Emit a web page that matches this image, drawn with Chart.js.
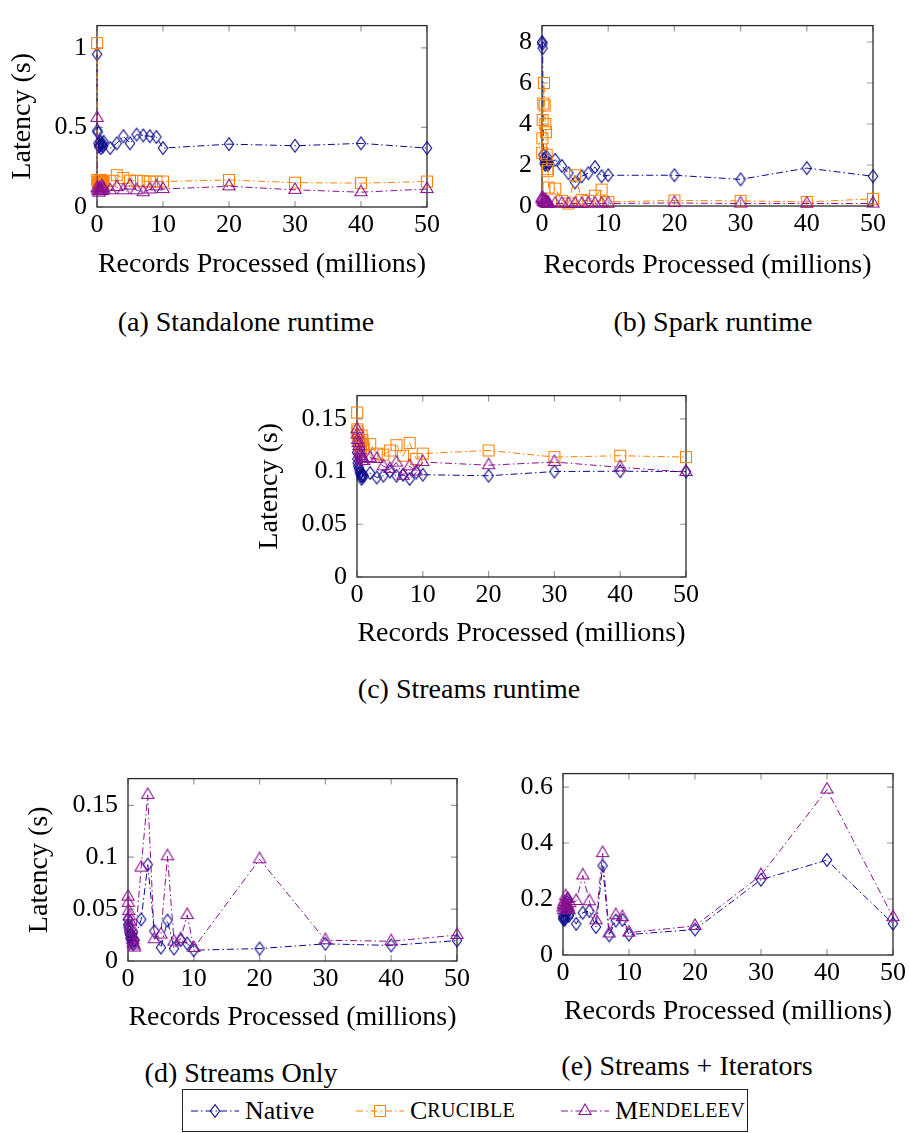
<!DOCTYPE html>
<html>
<head>
<meta charset="utf-8">
<script src="https://cdn.jsdelivr.net/npm/chart.js@4.4.1/dist/chart.umd.min.js"></script>
<style>
  body { margin: 0; background: #fff; width: 909px; height: 1133px; position: relative; overflow: hidden;
         font-family: "Liberation Serif", "DejaVu Serif", serif; color: #000; }
  canvas { position: absolute; }
  .cap { position: absolute; font-size: 28px; white-space: nowrap; transform: translate(-50%, -50%); }
  #legend { position: absolute; left: 182px; top: 1089px; width: 566px; height: 43px; box-sizing: border-box;
            border: 1.3px solid #222; }
  #legend .item { position: absolute; top: 0; height: 41px; display: flex; align-items: center; font-size: 26px; }
  #legend svg { margin-right: 6px; }
  .sc { font-size: 20px; letter-spacing: 0.3px; }
</style>
</head>
<body>
<canvas id="chartA"></canvas>
<canvas id="chartB"></canvas>
<canvas id="chartC"></canvas>
<canvas id="chartD"></canvas>
<canvas id="chartE"></canvas>

<div class="cap" style="left:246px; top:322px">(a) Standalone runtime</div>
<div class="cap" style="left:713px; top:322px">(b) Spark runtime</div>
<div class="cap" style="left:469px; top:689px">(c) Streams runtime</div>
<div class="cap" style="left:241px; top:1073px">(d) Streams Only</div>
<div class="cap" style="left:687px; top:1066px">(e) Streams + Iterators</div>

<div id="legend">
  <div class="item" style="left:8px"><svg id="icoNative" width="48" height="20"></svg>Native</div>
  <div class="item" style="left:173px"><svg id="icoCrucible" width="48" height="20"></svg>C<span class="sc">RUCIBLE</span></div>
  <div class="item" style="left:378px"><svg id="icoMendeleev" width="48" height="20"></svg>M<span class="sc">ENDELEEV</span></div>
</div>

<script>
// Записи (в миллионах) — общая ось X для всех графиков
const xRecords = [0.01, 0.05, 0.1, 0.2, 0.3, 0.4, 0.5, 0.6, 0.7, 0.8, 0.9, 1,
                  2, 3, 4, 5, 6, 7, 8, 9, 10, 20, 30, 40, 50];
const xTicks = [0, 10, 20, 30, 40, 50];

// (a) Standalone runtime
const standaloneNative    = [0.96, 0.48, 0.47, 0.40, 0.38, 0.39, 0.41, 0.37, 0.39, 0.40, 0.38, 0.41,
                             0.37, 0.40, 0.445, 0.40, 0.455, 0.45, 0.445, 0.44, 0.37, 0.395, 0.385, 0.40, 0.37];
const standaloneCrucible  = [1.03, 0.17, 0.16, 0.15, 0.14, 0.16, 0.15, 0.17, 0.14, 0.16, 0.15, 0.16,
                             0.165, 0.20, 0.183, 0.166, 0.165, 0.163, 0.16, 0.16, 0.16, 0.17, 0.153, 0.15, 0.16];
const standaloneMendeleev = [0.56, 0.12, 0.11, 0.10, 0.09, 0.12, 0.10, 0.11, 0.13, 0.10, 0.12, 0.11,
                             0.105, 0.125, 0.105, 0.135, 0.105, 0.093, 0.11, 0.13, 0.113, 0.13, 0.108, 0.093, 0.113];
const standaloneTicks = [0, 0.5, 1];

// (b) Spark runtime
const sparkNative    = [8.0, 7.9, 7.7, 2.5, 2.3, 2.1, 2.0, 2.2, 2.4, 2.1, 2.0, 2.1,
                        2.25, 1.95, 1.6, 1.15, 1.45, 1.6, 1.9, 1.45, 1.5, 1.5, 1.3, 1.85, 1.45];
const sparkCrucible  = [2.6, 3.3, 4.2, 5.0, 6.0, 4.9, 4.0, 3.6, 2.5, 1.7, 1.8, 0.9,
                        0.85, 0.25, 0.12, 1.5, 0.3, 0.25, 0.5, 0.8, 0.2, 0.27, 0.25, 0.2, 0.35];
const sparkMendeleev = [0.4, 0.3, 0.35, 0.2, 0.25, 0.15, 0.3, 0.2, 0.1, 0.2, 0.15, 0.1,
                        0.12, 0.12, 0.1, 0.12, 0.1, 0.12, 0.12, 0.12, 0.12, 0.15, 0.12, 0.12, 0.12];
const sparkTicks = [0, 2, 4, 6, 8];

// (c) Streams runtime
const streamsNative    = [0.118, 0.112, 0.108, 0.105, 0.103, 0.1, 0.098, 0.096, 0.093, 0.095, 0.097, 0.096,
                          0.0986, 0.0943, 0.096, 0.1, 0.096, 0.097, 0.093, 0.099, 0.097, 0.096, 0.1, 0.1003, 0.1];
const streamsCrucible  = [0.156, 0.140, 0.138, 0.135, 0.13, 0.128, 0.125, 0.122, 0.134, 0.13, 0.125, 0.122,
                          0.126, 0.117, 0.116, 0.12, 0.125, 0.115, 0.127, 0.112, 0.117, 0.12, 0.1137, 0.115, 0.1137];
const streamsMendeleev = [0.14, 0.135, 0.13, 0.127, 0.124, 0.12, 0.117, 0.115, 0.113, 0.11, 0.112, 0.11,
                          0.113, 0.112, 0.105, 0.1026, 0.1085, 0.096, 0.105, 0.1, 0.109, 0.106, 0.109, 0.104, 0.0995];
const streamsTicks = [0, 0.05, 0.1, 0.15];

// (d) Streams Only
const onlyNative    = [0.04, 0.035, 0.032, 0.028, 0.025, 0.022, 0.02, 0.025, 0.018, 0.016, 0.02, 0.02,
                       0.04, 0.0928, 0.0287, 0.013, 0.039, 0.012, 0.02, 0.0168, 0.0104, 0.012, 0.0165, 0.015, 0.0197];
const onlyMendeleev = [0.062, 0.056, 0.048, 0.043, 0.038, 0.033, 0.03, 0.025, 0.02, 0.017, 0.015, 0.013,
                       0.09, 0.16, 0.021, 0.0255, 0.1009, 0.0187, 0.021, 0.0443, 0.0125, 0.098, 0.02, 0.019, 0.025];
const onlyTicks = [0, 0.05, 0.1, 0.15];

// (e) Streams + Iterators
const iterNative    = [0.13, 0.14, 0.135, 0.125, 0.13, 0.14, 0.15, 0.19, 0.2, 0.16, 0.14, 0.15,
                       0.111, 0.151, 0.157, 0.1, 0.319, 0.07, 0.123, 0.125, 0.073, 0.091, 0.269, 0.339, 0.112];
const iterMendeleev = [0.17, 0.18, 0.16, 0.19, 0.175, 0.21, 0.165, 0.18, 0.2, 0.17, 0.16, 0.185,
                       0.193, 0.284, 0.192, 0.124, 0.364, 0.077, 0.142, 0.135, 0.08, 0.104, 0.285, 0.591, 0.135];
const iterTicks = [0, 0.2, 0.4, 0.6];

const NATIVE = '#0a0a8c', CRUCIBLE = '#ff8000', MENDELEEV = '#8a1090';
const DASH = [7, 3, 1.5, 3];
const FONT = '"Liberation Serif", "DejaVu Serif", serif';

// Маркеры как в pgfplots: ромб, квадрат, треугольник (без заливки)
function drawMarkerPath(g, shape, cx, cy) {
    g.beginPath();
    if (shape === 'diamond') {
        g.moveTo(cx, cy - 6.3); g.lineTo(cx + 4.7, cy); g.lineTo(cx, cy + 6.3); g.lineTo(cx - 4.7, cy);
        g.closePath();
    } else if (shape === 'square') {
        g.rect(cx - 5.5, cy - 5.5, 11, 11);
    } else {
        g.moveTo(cx, cy - 7); g.lineTo(cx + 6.1, cy + 3.5); g.lineTo(cx - 6.1, cy + 3.5);
        g.closePath();
    }
}

function makeMarker(shape, color) {
    const c = document.createElement('canvas');
    c.width = 16; c.height = 16;
    const g = c.getContext('2d');
    g.strokeStyle = color;
    g.lineWidth = 1.1;
    drawMarkerPath(g, shape, 8, 8);
    g.stroke();
    return c;
}

const mNative = makeMarker('diamond', NATIVE);
const mCrucible = makeMarker('square', CRUCIBLE);
const mMendeleev = makeMarker('triangle', MENDELEEV);

function series(label, values, color, marker, order) {
    return {
        label: label,
        data: xRecords.map((x, i) => ({ x: x, y: values[i] })),
        borderColor: color,
        borderWidth: 1,
        borderDash: DASH,
        pointStyle: marker,
        pointRadius: 6,
        pointHoverRadius: 6,
        tension: 0,
        fill: false,
        clip: false,
        order: order
    };
}

// Рамка осей и внутренние засечки со всех сторон
const framePlugin = {
    id: 'frame',
    beforeDatasetsDraw(chart) {
        const ctx = chart.ctx, a = chart.chartArea, x = chart.scales.x, y = chart.scales.y;
        ctx.save();
        ctx.strokeStyle = '#9a9a9a';
        ctx.lineWidth = 1.2;
        ctx.beginPath();
        x.ticks.forEach(t => {
            const px = x.getPixelForValue(t.value);
            ctx.moveTo(px, a.bottom); ctx.lineTo(px, a.bottom - 6);
            ctx.moveTo(px, a.top); ctx.lineTo(px, a.top + 6);
        });
        y.ticks.forEach(t => {
            const py = y.getPixelForValue(t.value);
            ctx.moveTo(a.left, py); ctx.lineTo(a.left + 6, py);
            ctx.moveTo(a.right, py); ctx.lineTo(a.right - 6, py);
        });
        ctx.stroke();
        ctx.strokeStyle = '#2a2a2a';
        ctx.lineWidth = 1.3;
        ctx.strokeRect(a.left, a.top, a.right - a.left, a.bottom - a.top);
        ctx.restore();
    }
};

function makePanel(id, box, area, yMax, yTicks, datasets, yTitlePad, xTitleCenter) {
    const canvas = document.getElementById(id);
    canvas.width = box.w;
    canvas.height = box.h;
    canvas.style.left = box.left + 'px';
    canvas.style.top = box.top + 'px';

    const yWidth = area.l - box.left;
    const xHeight = box.top + box.h - area.b;

    return new Chart(canvas.getContext('2d'), {
        type: 'line',
        data: { datasets: datasets },
        plugins: [framePlugin],
        options: {
            responsive: false,
            animation: false,
            devicePixelRatio: 1,
            layout: { padding: { top: area.t - box.top, right: box.left + box.w - area.r, left: 0, bottom: 0 } },
            plugins: { legend: { display: false }, tooltip: { enabled: false } },
            scales: {
                x: {
                    type: 'linear',
                    min: 0, max: 50,
                    grid: { display: false, drawTicks: false },
                    border: { display: false },
                    afterBuildTicks: s => { s.ticks = xTicks.map(v => ({ value: v })); },
                    afterFit: s => { s.height = xHeight; },
                    ticks: { autoSkip: false, maxRotation: 0, padding: 3, color: '#000',
                             callback: v => String(v),
                             font: { family: FONT, size: 26 } },
                    title: { display: true, text: 'Records Processed (millions)', color: '#000',
                             font: { family: FONT, size: 28 },
                             padding: { top: 0, bottom: box.top + box.h - xTitleCenter - 16.8 } }
                },
                y: {
                    type: 'linear',
                    min: 0, max: yMax,
                    grid: { display: false, drawTicks: false },
                    border: { display: false },
                    afterBuildTicks: s => { s.ticks = yTicks.map(v => ({ value: v })); },
                    afterFit: s => { s.width = yWidth; },
                    ticks: { autoSkip: false, padding: 10, color: '#000',
                             callback: v => String(v),
                             font: { family: FONT, size: 26 } },
                    title: { display: yTitlePad !== null, text: 'Latency (s)', color: '#000',
                             font: { family: FONT, size: 28 },
                             padding: { top: yTitlePad || 0, bottom: 0 } }
                }
            }
        }
    });
}

makePanel('chartA', { left: 0, top: 0, w: 450, h: 290 }, { l: 97, t: 6, r: 427, b: 207 }, 1.14, standaloneTicks, [
    series('Native', standaloneNative, NATIVE, mNative, 3),
    series('Crucible', standaloneCrucible, CRUCIBLE, mCrucible, 2),
    series('Mendeleev', standaloneMendeleev, MENDELEEV, mMendeleev, 1)
], 6, 265);

makePanel('chartB', { left: 450, top: 0, w: 459, h: 290 }, { l: 542, t: 6, r: 873, b: 206 }, 8.8, sparkTicks, [
    series('Native', sparkNative, NATIVE, mNative, 3),
    series('Crucible', sparkCrucible, CRUCIBLE, mCrucible, 2),
    series('Mendeleev', sparkMendeleev, MENDELEEV, mMendeleev, 1)
], null, 266);

makePanel('chartC', { left: 240, top: 370, w: 470, h: 290 }, { l: 357, t: 376, r: 686, b: 577 }, 0.172, streamsTicks, [
    series('Native', streamsNative, NATIVE, mNative, 3),
    series('Crucible', streamsCrucible, CRUCIBLE, mCrucible, 2),
    series('Mendeleev', streamsMendeleev, MENDELEEV, mMendeleev, 1)
], 13, 634);

makePanel('chartD', { left: 10, top: 753, w: 470, h: 290 }, { l: 128, t: 759, r: 457, b: 961 }, 0.1757, onlyTicks, [
    series('Native', onlyNative, NATIVE, mNative, 3),
    series('Mendeleev', onlyMendeleev, MENDELEEV, mMendeleev, 1)
], 13, 1018);

makePanel('chartE', { left: 470, top: 748, w: 439, h: 290 }, { l: 563, t: 754, r: 893, b: 955 }, 0.648, iterTicks, [
    series('Native', iterNative, NATIVE, mNative, 3),
    series('Mendeleev', iterMendeleev, MENDELEEV, mMendeleev, 1)
], null, 1012);

// Значки легенды
function legendIcon(id, shape, color) {
    const svg = document.getElementById(id);
    const ns = 'http://www.w3.org/2000/svg';
    const line = document.createElementNS(ns, 'line');
    line.setAttribute('x1', 0); line.setAttribute('x2', 48);
    line.setAttribute('y1', 10); line.setAttribute('y2', 10);
    line.setAttribute('stroke', color); line.setAttribute('stroke-width', 1);
    line.setAttribute('stroke-dasharray', DASH.join(' '));
    svg.appendChild(line);
    let d;
    if (shape === 'diamond') d = 'M24 3.7 L28.7 10 L24 16.3 L19.3 10 Z';
    else if (shape === 'square') d = 'M18.5 4.5 h11 v11 h-11 Z';
    else d = 'M24 3 L30.1 13.5 L17.9 13.5 Z';
    const p = document.createElementNS(ns, 'path');
    p.setAttribute('d', d);
    p.setAttribute('fill', 'none');
    p.setAttribute('stroke', color); p.setAttribute('stroke-width', 1.1);
    svg.appendChild(p);
}
legendIcon('icoNative', 'diamond', NATIVE);
legendIcon('icoCrucible', 'square', CRUCIBLE);
legendIcon('icoMendeleev', 'triangle', MENDELEEV);
</script>
</body>
</html>
